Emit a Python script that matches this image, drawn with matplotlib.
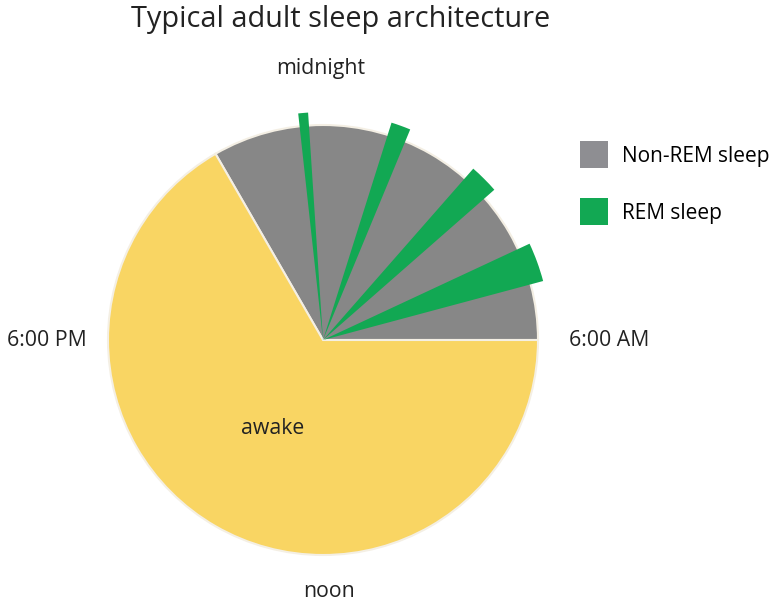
import matplotlib.pyplot as plt
from matplotlib.patches import Patch

# minutes of each stage, going clockwise from 10:00 PM
stages = ["nonrem", "rem", "nonrem", "rem", "nonrem", "rem", "nonrem", "rem", "nonrem", "awake"]
minutes = [95, 10, 85, 20, 75, 30, 65, 40, 60, 960]
clock_labels = ["midnight", "6:00 AM", "noon", "6:00 PM"]
legend_labels = ["Non-REM sleep", "REM sleep"]

colors = {"nonrem": "#878787", "rem": "#12A853", "awake": "#F9D563"}
start_hour = 22  # sleep onset

plt.rcParams["font.family"] = ["Open Sans", "DejaVu Sans"]

fig = plt.figure(figsize=(7.78, 6.06), dpi=100)
ax = fig.add_axes([0, 0, 1, 1])

cx, cy, r_px = 323, 340, 215
start_angle = 90 + (24 - start_hour) * 15

# base pie: whole sleep block in gray, awake in yellow
sleep_total = sum(m for m, s in zip(minutes, stages) if s != "awake")
awake_total = sum(m for m, s in zip(minutes, stages) if s == "awake")
ax.pie([sleep_total, awake_total], colors=[colors["nonrem"], colors["awake"]],
       startangle=start_angle, counterclock=False,
       wedgeprops=dict(edgecolor="#f4efe4", linewidth=1.5))

# REM wedges drawn on top, sticking out a little
rem_wedges, _ = ax.pie(minutes, colors=[colors[s] for s in stages], startangle=start_angle,
                       counterclock=False, radius=1.06, wedgeprops=dict(linewidth=0))
for w, s in zip(rem_wedges, stages):
    if s != "rem":
        w.set_visible(False)

ax.set_xlim(-cx / r_px, (778 - cx) / r_px)
ax.set_ylim(-(606 - cy) / r_px, cy / r_px)
ax.axis("off")

txt = dict(fontsize=15.3, color="#222222", ha="center", va="center")
ax.text(-0.01, 1.265, clock_labels[0], **txt)
ax.text(1.33, 0, clock_labels[1], **txt)
ax.text(0.03, -1.17, clock_labels[2], **txt)
ax.text(-1.284, 0, clock_labels[3], **txt)
ax.text(-0.233, -0.41, "awake", **txt)

fig.text(341 / 778, 1 - 20 / 606, "Typical adult sleep architecture",
         fontsize=20.8, color="#222222", ha="center", va="center")

handles = [Patch(facecolor="#8E8E92"), Patch(facecolor=colors["rem"])]
fig.legend(handles, legend_labels, loc="upper left", bbox_to_anchor=(580 / 778, 1 - 141 / 606),
           frameon=False, fontsize=15, borderpad=0, borderaxespad=0,
           handlelength=1.35, handleheight=1.65, handletextpad=0.65, labelspacing=1.42)

fig.savefig("out.png", dpi=100)
